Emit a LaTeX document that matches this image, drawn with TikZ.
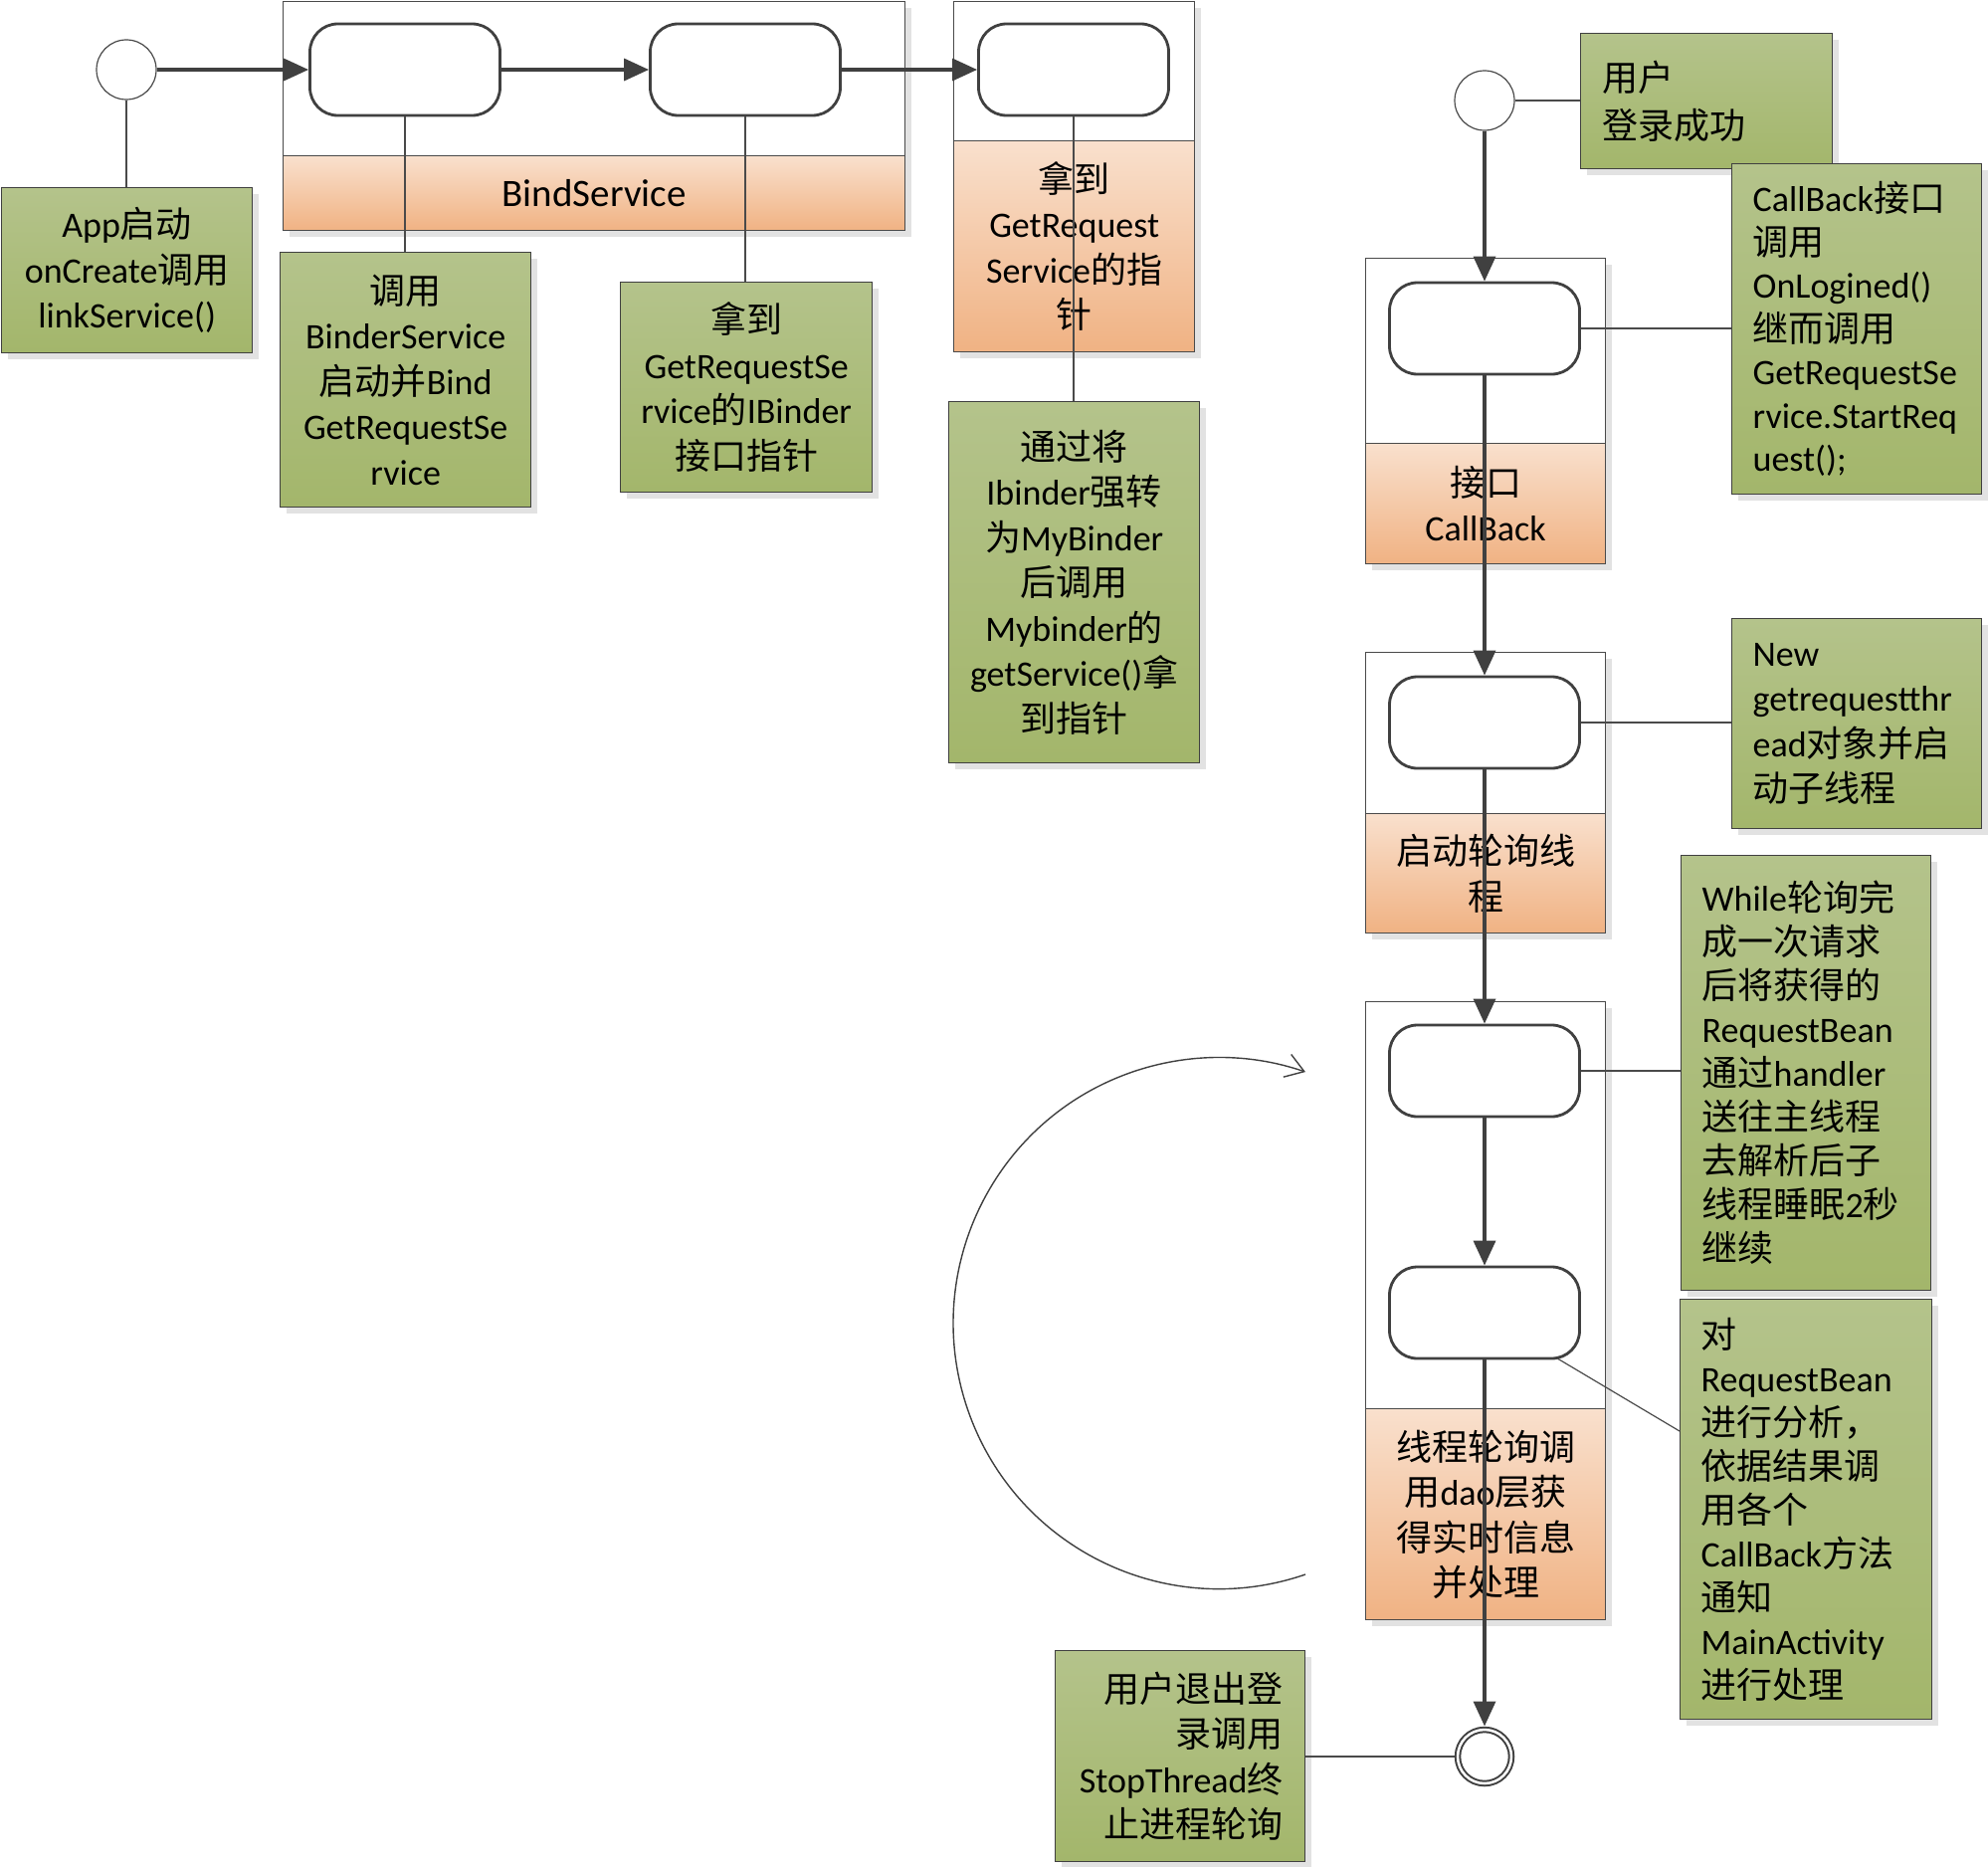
\documentclass[tikz,border=0pt]{standalone}
\usepackage{fontspec}
\setmainfont{Carlito}
\newfontfamily\cjkfont{Noto Sans CJK SC}
\newcommand\zh[1]{{\cjkfont #1}}
\newcommand\bodyfont{\fontsize{36}{45.5}\selectfont}
\usetikzlibrary{arrows.meta,calc,shadows}

\definecolor{ink}{HTML}{404040}
\definecolor{rulegray}{HTML}{4A4A4A}
\definecolor{greentop}{HTML}{B4C38B}
\definecolor{greenbot}{HTML}{A3B66B}
\definecolor{orangetop}{HTML}{F9E0CD}
\definecolor{orangebot}{HTML}{F0B283}
\definecolor{shadowgray}{HTML}{E2E2E2}

\tikzset{
  boxshadow/.style={drop shadow={shadow xshift=6pt,shadow yshift=-6pt,fill=shadowgray,opacity=1}},
  lane/.style={draw=rulegray,line width=1.3pt,fill=white,inner sep=0pt,anchor=north west,boxshadow},
  band/.style={draw=rulegray,line width=1.3pt,top color=orangetop,bottom color=orangebot,
    inner sep=0pt,anchor=north west,align=center,font=\bodyfont},
  note/.style={draw=ink,line width=1.3pt,top color=greentop,bottom color=greenbot,
    inner xsep=20pt,inner ysep=0pt,anchor=north west,font=\bodyfont,boxshadow},
  act/.style={draw=ink,line width=2.8pt,fill=white,rounded corners=28pt,
    minimum width=191pt,minimum height=92pt,inner sep=0pt},
  initial/.style={circle,draw=rulegray,line width=1.2pt,fill=white,minimum size=60pt,inner sep=0pt},
  final/.style={circle,draw=ink,line width=2pt,double=white,double distance=2.5pt,
    minimum size=54pt,inner sep=0pt,outer sep=3.5pt},
  flow/.style={draw=ink,line width=3.5pt,-{Triangle[length=25pt,width=22pt]}},
  link/.style={draw=rulegray,line width=1.2pt},
  cycleline/.style={draw=ink,line width=1.4pt,-{Straight Barb[length=18pt,width=24pt]}},
}

\begin{document}
\begin{tikzpicture}[x=1pt,y=-1pt]
\useasboundingbox (0,0) rectangle (1998,1876);

% ---- swimlane-like containers with their captions
\node[lane,minimum width=625pt,minimum height=230pt] (laneA) at (284,1) {};
\node[band,minimum width=625pt,minimum height=75pt,font=\fontsize{39}{45.5}\selectfont] (bandA) at (284,156) {BindService};

\node[lane,minimum width=242pt,minimum height=352pt] (laneB) at (958,1) {};
\node[band,minimum width=242pt,minimum height=212pt] (bandB) at (958,141)
  {\zh{拿到}\\GetRequest\\Service\zh{的指}\\\zh{针}};

\node[lane,minimum width=241pt,minimum height=307pt] (laneCB) at (1372,259) {};
\node[band,minimum width=241pt,minimum height=121pt] (bandCB) at (1372,445)
  {\zh{接口}\\CallBack};

\node[lane,minimum width=241pt,minimum height=282pt] (laneT) at (1372,655) {};
\node[band,minimum width=241pt,minimum height=120pt] (bandT) at (1372,817)
  {\zh{启动轮询线}\\\zh{程}};

\node[lane,minimum width=241pt,minimum height=621pt] (laneP) at (1372,1006) {};
\node[band,minimum width=241pt,minimum height=212pt] (bandP) at (1372,1415)
  {\zh{线程轮询调}\\\zh{用}dao\zh{层获}\\\zh{得实时信息}\\\zh{并处理}};

% ---- annotation notes
\node[note,text width=212pt,minimum height=166pt,align=center] (n1) at (1,188)
  {App\zh{启动}\\onCreate\zh{调用}\\linkService()};
\node[note,text width=212pt,minimum height=256pt,align=center] (n2) at (281,253)
  {\zh{调用}\\BinderService\\\zh{启动并}Bind\\GetRequestSe\\rvice};
\node[note,text width=213pt,minimum height=211pt,align=center] (n3) at (623,283)
  {\zh{拿到}\\GetRequestSe\\rvice\zh{的}IBinder\\\zh{接口指针}};
\node[note,text width=212pt,minimum height=363pt,align=center] (n4) at (953,403)
  {\zh{通过将}\\Ibinder\zh{强转}\\\zh{为}MyBinder\\\zh{后调用}\\Mybinder\zh{的}\\getService()\zh{拿}\\\zh{到指针}};

\node[note,inner xsep=22pt,text width=209pt,minimum height=136pt,align=left] (nu) at (1588,33)
  {\zh{用户}\\[3pt]\zh{登录成功}};
\node[note,inner xsep=21pt,text width=209pt,minimum height=332pt,align=left,
  font=\fontsize{36}{43.5}\selectfont] (ncb) at (1740,164)
  {CallBack\zh{接口}\\\zh{调用}\\OnLogined()\\\zh{继而调用}\\GetRequestSe\\rvice.StartReq\\uest();};
\node[note,inner xsep=21pt,text width=209pt,minimum height=211pt,align=left] (nnew) at (1740,621)
  {New\\getrequestthr\\ead\zh{对象并启}\\\zh{动子线程}};
\node[note,inner xsep=21pt,text width=209pt,minimum height=437pt,align=left,
  font=\fontsize{36}{44}\selectfont] (nwhile) at (1689,859)
  {While\zh{轮询完}\\\zh{成一次请求}\\\zh{后将获得的}\\RequestBean\\\zh{通过}handler\\\zh{送往主线程}\\\zh{去解析后子}\\\zh{线程睡眠}2\zh{秒}\\\zh{继续}};
\node[note,inner xsep=21pt,text width=211pt,minimum height=422pt,align=left,
  font=\fontsize{36}{44}\selectfont] (ndui) at (1688,1305)
  {\zh{对}\\RequestBean\\\zh{进行分析，}\\\zh{依据结果调}\\\zh{用各个}\\CallBack\zh{方法}\\\zh{通知}\\MainActivity\\\zh{进行处理}};
\node[note,inner xsep=22pt,text width=207pt,minimum height=212pt,align=right] (nquit) at (1060,1658)
  {\zh{用户退出登}\\\zh{录调用}\\StopThread\zh{终}\\\zh{止进程轮询}};

% ---- activities and pseudo states
\node[initial] (c1) at (127,70) {};
\node[act] (r1) at (407,70) {};
\node[act] (r2) at (749,70) {};
\node[act] (r3) at (1079,70) {};

\node[initial] (c2) at (1492,101) {};
\node[act] (rCB) at (1492,330) {};
\node[act] (rT) at (1492,726) {};
\node[act] (rA) at (1492,1076) {};
\node[act] (rB) at (1492,1319) {};
\node[final] (fin) at (1492,1765) {};

% ---- note connectors
\draw[link] (c1.south) -- (c1.south |- n1.north);
\draw[link] (r1.south) -- (r1.south |- n2.north);
\draw[link] (r2.south) -- (r2.south |- n3.north);
\draw[link] (r3.south) -- (r3.south |- n4.north);
\draw[link] (c2.east) -- (c2.east -| nu.west);
\draw[link] (rCB.east) -- (rCB.east -| ncb.west);
\draw[link] (rT.east) -- (rT.east -| nnew.west);
\draw[link] (rA.east) -- (rA.east -| nwhile.west);
\draw[link] ($(rB.south east)+(-23,-1)$) -- ($(ndui.north west)+(0,133)$);
\draw[link] (fin.west) -- (fin.west -| nquit.east);

% ---- control flow
\draw[flow] (c1) -- (r1);
\draw[flow] (r1) -- (r2);
\draw[flow] (r2) -- (r3);
\draw[flow] (c2) -- (rCB);
\draw[flow] (rCB) -- (rT);
\draw[flow] (rT) -- (rA);
\draw[flow] (rA) -- (rB);
\draw[flow] (rB) -- (fin);

% ---- polling loop
\coordinate (loopstart) at (1312,1582);
\draw[cycleline] (loopstart) arc[start angle=71,end angle=289,radius=267];
\end{tikzpicture}
\end{document}
